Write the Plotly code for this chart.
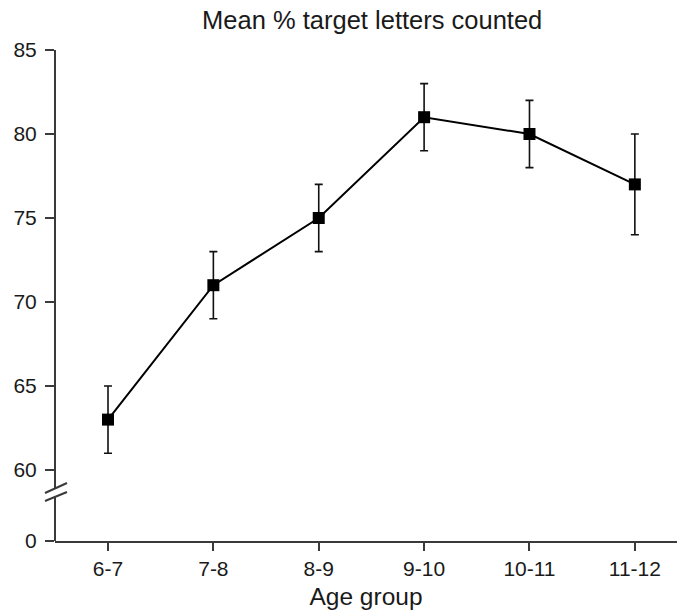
import plotly.graph_objects as go

# Data
age_groups = ["6-7", "7-8", "8-9", "9-10", "10-11", "11-12"]
mean_pct = [63, 71, 75, 81, 80, 77]
err = [2, 2, 2, 2, 2, 3]
y_ticks = [60, 65, 70, 75, 80, 85]

# Layout geometry
W, H = 677, 612
ML, MR, MT, MB = 55, 0, 50, 71
plot_w = W - ML - MR
plot_h = H - MT - MB

# Broken y axis: the "0" baseline sits just below 60
y_top = 85
px_per_unit = 16.8
zero_pos = 60 - 71 / px_per_unit
axis_color = "#3a3a3a"
family = "Liberation Sans, Arial, sans-serif"
tick_font = dict(family=family, size=21, color="#1a1a1a")
title_font = dict(family=family, size=25.5, color="#1a1a1a")
axis_title_font = dict(family=family, size=24.5, color="#1a1a1a")

fig = go.Figure()
fig.add_trace(go.Scatter(
    x=age_groups, y=mean_pct,
    mode="lines+markers",
    line=dict(color="black", width=2),
    marker=dict(symbol="square", size=12, color="black"),
    error_y=dict(type="data", array=err, visible=True,
                 color="#111", thickness=1.6, width=4),
    showlegend=False,
))

def px_x(p):
    return p / plot_w

def py_val(pix):
    # pixel row in page -> y data value
    return zero_pos + (MT + plot_h - pix) / plot_h * (y_top - zero_pos)

shapes = [
    # y axis line, upper part
    dict(type="line", xref="paper", yref="y", x0=0, x1=0,
         y0=py_val(488), y1=y_top, line=dict(color=axis_color, width=2)),
    # y axis line, lower part
    dict(type="line", xref="paper", yref="y", x0=0, x1=0,
         y0=zero_pos, y1=py_val(497), line=dict(color=axis_color, width=2)),
    # break marks
    dict(type="line", xref="paper", yref="y", x0=px_x(-10), x1=px_x(12),
         y0=py_val(493), y1=py_val(483), line=dict(color=axis_color, width=2)),
    dict(type="line", xref="paper", yref="y", x0=px_x(-10), x1=px_x(12),
         y0=py_val(501), y1=py_val(492), line=dict(color=axis_color, width=2)),
]

fig.update_layout(
    width=W, height=H,
    margin=dict(l=ML, r=MR, t=MT, b=MB, pad=0),
    paper_bgcolor="white", plot_bgcolor="white",
    font=tick_font,
    title=dict(text="Mean % target letters counted", x=0.51, xref="paper",
               y=1 - 20 / H, yanchor="middle", font=title_font),
    shapes=shapes,
    xaxis=dict(
        type="category", range=[-0.503, 5.4],
        showline=True, linecolor=axis_color, linewidth=2,
        ticks="outside", ticklen=8, tickwidth=1.6, tickcolor=axis_color,
        showgrid=False, zeroline=False,
        title=dict(text="Age group", font=axis_title_font, standoff=9),
        tickfont=tick_font,
    ),
    yaxis=dict(
        range=[zero_pos, y_top],
        showline=False,
        tickvals=[zero_pos] + y_ticks,
        ticktext=["0"] + [str(v) for v in y_ticks],
        ticks="outside", ticklen=9, tickwidth=1.6, tickcolor=axis_color,
        showgrid=False, zeroline=False,
        tickfont=tick_font,
        ticklabelstandoff=4,
    ),
)

fig.write_html("out.html")
